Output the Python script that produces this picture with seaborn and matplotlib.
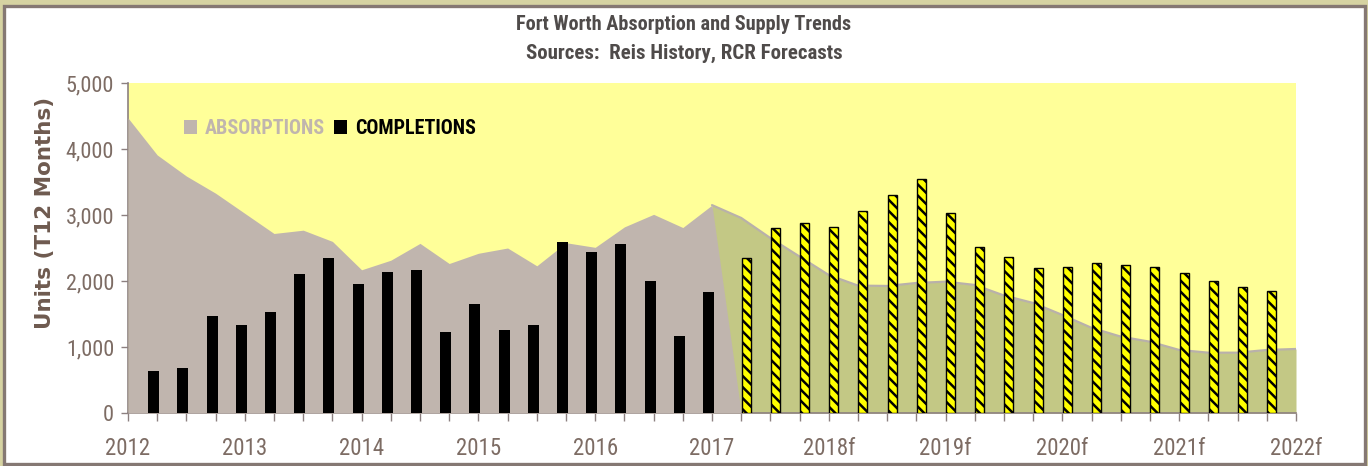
import numpy as np
import matplotlib
matplotlib.use("Agg")
import matplotlib.pyplot as plt
import seaborn as sns
from matplotlib import font_manager
from matplotlib.patches import Patch, Rectangle
from matplotlib.ticker import FuncFormatter

# ---------------- data ----------------
year_labels = ["2012", "2013", "2014", "2015", "2016", "2017",
               "2018f", "2019f", "2020f", "2021f", "2022f"]
y_ticks = [0, 1000, 2000, 3000, 4000, 5000]

# T12 absorption, one value per quarter tick (2012 .. 2022f)
absorptions = [4470, 3910, 3590, 3330, 3025, 2720, 2770, 2600, 2170, 2315,
               2570, 2265, 2420, 2500, 2230, 2580, 2510, 2820, 3010, 2810,
               3150, 2955, 2650, 2370, 2090, 1930, 1925, 1970, 1990, 1940,
               1780, 1667, 1485, 1290, 1157, 1080, 955, 914, 914, 955, 970]
# completions, history quarters
completions_hist = [640, 680, 1470, 1335, 1530, 2105, 2350, 1955, 2135, 2165,
                    1230, 1650, 1260, 1335, 2590, 2440, 2556, 2005, 1172, 1830]
# completions, forecast quarters
completions_fcst = [2343, 2798, 2884, 2823, 3066, 3303, 3550, 3035, 2520, 2368,
                    2192, 2217, 2273, 2242, 2217, 2121, 2000, 1914, 1848]

# ---------------- style ----------------
sns.set_theme(style="white")
names = {f.name for f in font_manager.fontManager.ttflist}
FONT = None
for cand in ["Liberation Sans Narrow", "Roboto Condensed", "Open Sans Condensed",
             "Noto Sans Condensed", "Noto Sans SemiCondensed"]:
    if cand in names:
        FONT = cand
        break
if FONT is None:
    FONT = "Roboto" if "Roboto" in names else "Liberation Sans"
    k = 0.82   # wider font -> smaller size to keep text widths
else:
    k = 1.0
plt.rcParams['font.family'] = [FONT, 'DejaVu Sans']
plt.rcParams['hatch.linewidth'] = 1.8

W, H = 1368, 466
fig = plt.figure(figsize=(W / 100, H / 100), dpi=100)
fig.patch.set_facecolor('#D6D3A2')
fig.add_artist(Rectangle((4 / W, 2 / H), 1361 / W, 458 / H, transform=fig.transFigure,
                         facecolor='white', edgecolor='#857873', linewidth=2.4, zorder=0))

ax = fig.add_axes([128 / W, 53 / H, 1168 / W, 330 / H])
ax.set_facecolor('#FFFF99')

q = np.arange(len(absorptions))
nh = len(completions_hist)

# forecast absorption area (green), drawn behind the history area
gx = q[nh:]
gy = np.array(absorptions[nh:])
ax.fill_between(gx, 0, gy, color='#C3C885', linewidth=0, zorder=1)
sns.lineplot(x=gx, y=gy, color='#B9B1AA', linewidth=1.6, ax=ax, zorder=2)

# history absorption area (gray), dropping to zero one quarter after history ends
hx = q[:nh + 2]
hy = np.array(absorptions[:nh + 1] + [0])
ax.fill_between(hx, 0, hy, color='#C0B5AE', linewidth=0, zorder=3)

# completions bars
hist_pos = np.arange(1, nh + 1) - 0.12
fcst_pos = np.arange(nh + 1, nh + 1 + len(completions_fcst)) + 0.17
sns.barplot(x=hist_pos, y=completions_hist, native_scale=True, width=0.38,
            color='black', saturation=1, errorbar=None, linewidth=0, ax=ax, zorder=5)
sns.barplot(x=fcst_pos, y=completions_fcst, native_scale=True, width=0.31,
            color='#FFFF00', saturation=1, errorbar=None, edgecolor='black',
            linewidth=1.0, hatch='\\\\\\', ax=ax, zorder=5)

# ---------------- axes ----------------
ax.set_xlim(0, len(absorptions) - 1)
ax.set_ylim(0, 5000)
ax.set_xticks(np.arange(0, len(absorptions), 4))
ax.set_xticklabels(year_labels)
ax.set_xticks(q, minor=True)
ax.set_yticks(y_ticks)
ax.yaxis.set_major_formatter(FuncFormatter(lambda v, p: f"{int(v):,}"))
ax.set_xlabel("")
ax.set_ylabel("")

tick_col = '#7D6C64'
ax.tick_params(axis='x', which='both', direction='out', length=6, width=1,
               color='#8C8080', bottom=True)
ax.tick_params(axis='x', which='major', pad=11, labelsize=16.5 * k, labelcolor=tick_col)
ax.tick_params(axis='y', direction='out', length=5, width=1, color='#8C8080',
               left=True, pad=5, labelsize=16 * k, labelcolor=tick_col)
for s in ['top', 'right']:
    ax.spines[s].set_visible(False)
for s in ['left', 'bottom']:
    ax.spines[s].set_color('#8C8080')
    ax.spines[s].set_linewidth(1.2)

# legend
handles = [Patch(facecolor='#C0B5AE', edgecolor='none'),
           Patch(facecolor='black', edgecolor='none')]
leg = ax.legend(handles, ['ABSORPTIONS', 'COMPLETIONS'], loc='upper left',
                bbox_to_anchor=(0.048, 0.89), ncol=2, frameon=False,
                borderpad=0, borderaxespad=0, handlelength=0.65, handleheight=0.7,
                handletextpad=0.4, columnspacing=0.45,
                prop={'weight': 'bold', 'size': 14.5 * k})
leg.get_texts()[0].set_color('#C0B5AE')
leg.get_texts()[1].set_color('black')

# titles and y label
fig.text(0.5, 1 - 24 / H, "Fort Worth Absorption and Supply Trends", ha='center',
         va='center', fontsize=14.6 * k, fontweight='bold', color='#4F4B4A')
fig.text(0.5, 1 - 53 / H, "Sources:  Reis History, RCR Forecasts", ha='center',
         va='center', fontsize=15 * k, fontweight='bold', color='#4F4B4A')
fig.text(45 / W, 1 - 213 / H, "Units (T12 Months)", rotation=90, ha='center',
         va='center', fontsize=15.5, fontweight='bold', color='#6E5A4F',
         family=['DejaVu Sans'])

fig.savefig("out.png", dpi=100, facecolor=fig.get_facecolor())
